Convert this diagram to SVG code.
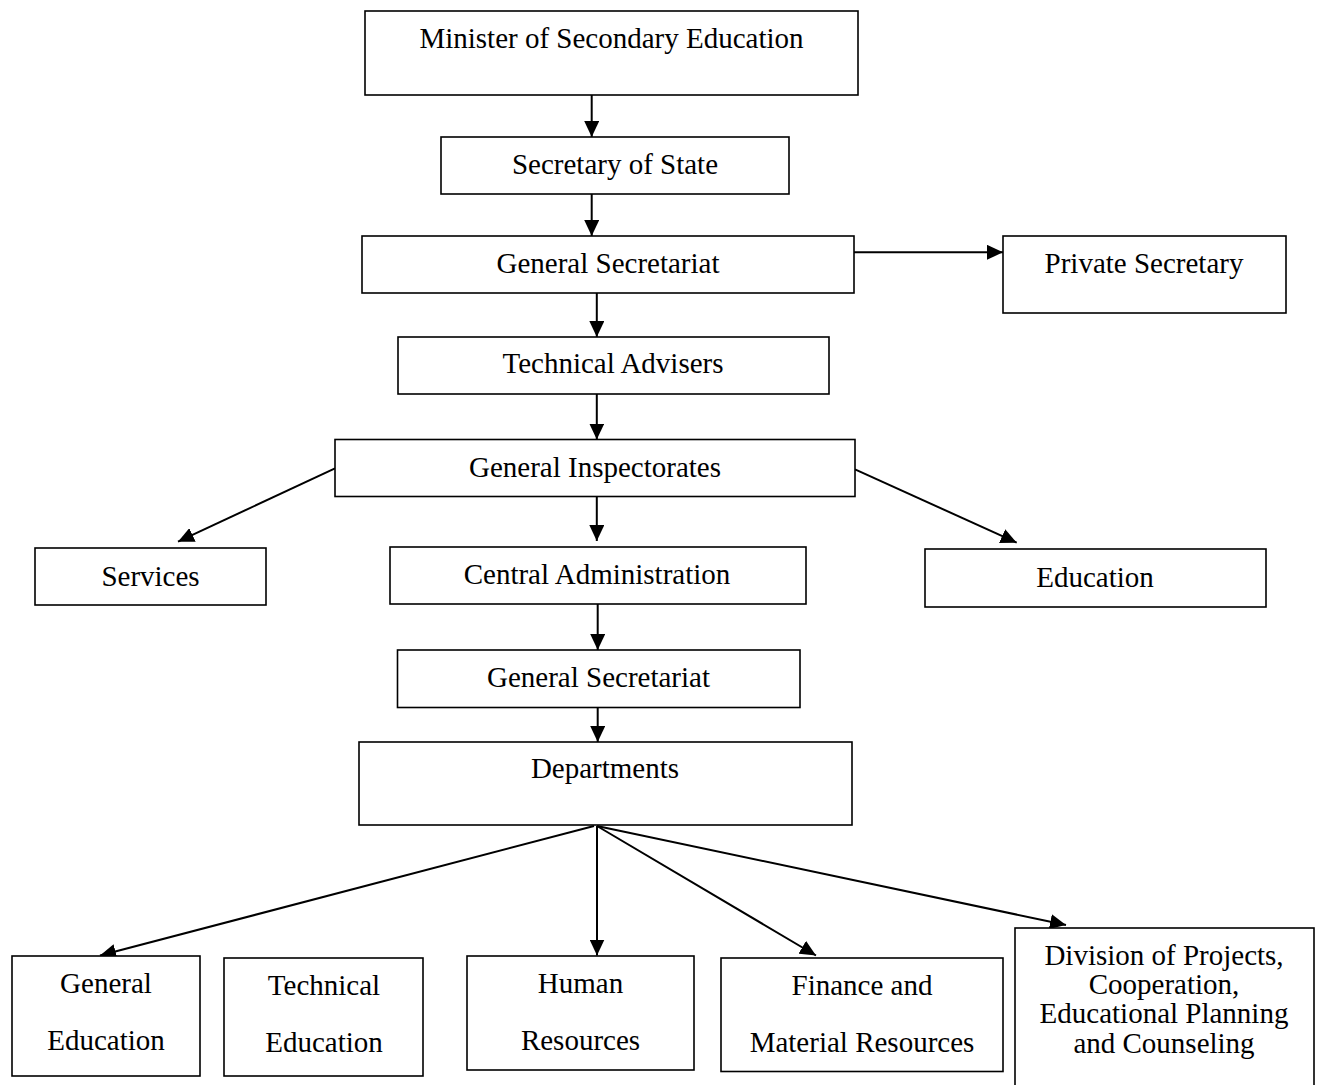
<svg xmlns="http://www.w3.org/2000/svg" width="1322" height="1085" viewBox="0 0 1322 1085">
<style>
.box{fill:#fff;stroke:#000;stroke-width:1.6}
.t{font-family:"Liberation Serif","Times New Roman",serif;font-size:29px;fill:#000;text-anchor:middle}
.c{stroke:#000;stroke-width:2;fill:none;marker-end:url(#ah)}
</style>
<defs>
<marker id="ah" markerUnits="userSpaceOnUse" markerWidth="16" markerHeight="15" refX="16" refY="7.5" orient="auto">
<path d="M0,0 L16,7.5 L0,15 z" fill="#000"/>
</marker>
</defs>
<rect width="1322" height="1085" fill="#fff"/>
<g id="connectors">
<line class="c" x1="591.7" y1="95" x2="591.7" y2="137"/>
<line class="c" x1="591.7" y1="194" x2="591.7" y2="236"/>
<line class="c" x1="854" y1="252.3" x2="1003" y2="252.3"/>
<line class="c" x1="596.8" y1="293" x2="596.8" y2="337"/>
<line class="c" x1="596.8" y1="394" x2="596.8" y2="439.5"/>
<line class="c" x1="335" y1="468.3" x2="178" y2="541.7"/>
<line class="c" x1="596.8" y1="496.7" x2="596.8" y2="541"/>
<line class="c" x1="855" y1="469.3" x2="1016.7" y2="542.7"/>
<line class="c" x1="597.7" y1="604" x2="597.7" y2="650"/>
<line class="c" x1="597.7" y1="707.7" x2="597.7" y2="742"/>
<line class="c" x1="594" y1="826" x2="100" y2="955.5"/>
<line class="c" x1="597" y1="826" x2="597" y2="955.5"/>
<line class="c" x1="597" y1="826" x2="816" y2="955.5"/>
<line class="c" x1="597" y1="826" x2="1066" y2="925"/>
</g>
<g id="minister"><rect class="box" x="365" y="11" width="493" height="84"/><text class="t" x="611.5" y="48">Minister of Secondary Education</text></g>
<g id="secretary-of-state"><rect class="box" x="441" y="137" width="348" height="57"/><text class="t" x="615" y="174">Secretary of State</text></g>
<g id="general-secretariat-1"><rect class="box" x="362" y="236" width="492" height="57"/><text class="t" x="608" y="273">General Secretariat</text></g>
<g id="private-secretary"><rect class="box" x="1003" y="236" width="283" height="77"/><text class="t" x="1144" y="273">Private Secretary</text></g>
<g id="technical-advisers"><rect class="box" x="398" y="337" width="431" height="57"/><text class="t" x="613" y="373">Technical Advisers</text></g>
<g id="general-inspectorates"><rect class="box" x="335" y="439.5" width="520" height="57"/><text class="t" x="595" y="477">General Inspectorates</text></g>
<g id="services"><rect class="box" x="35" y="548" width="231" height="57"/><text class="t" x="150.5" y="586">Services</text></g>
<g id="central-administration"><rect class="box" x="390" y="547" width="416" height="57"/><text class="t" x="597" y="584">Central Administration</text></g>
<g id="education"><rect class="box" x="925" y="549" width="341" height="58"/><text class="t" x="1095" y="587">Education</text></g>
<g id="general-secretariat-2"><rect class="box" x="397.5" y="650" width="402.5" height="57.5"/><text class="t" x="598.5" y="687">General Secretariat</text></g>
<g id="departments"><rect class="box" x="359" y="742" width="493" height="83"/><text class="t" x="605" y="778">Departments</text></g>
<g id="general-education"><rect class="box" x="12" y="956" width="188" height="120"/><text class="t" x="106" y="993">General</text><text class="t" x="106" y="1050">Education</text></g>
<g id="technical-education"><rect class="box" x="224" y="958" width="199" height="118"/><text class="t" x="324" y="995">Technical</text><text class="t" x="324" y="1052">Education</text></g>
<g id="human-resources"><rect class="box" x="467" y="956" width="227" height="114"/><text class="t" x="580.5" y="993">Human</text><text class="t" x="580.5" y="1050">Resources</text></g>
<g id="finance"><rect class="box" x="721" y="958" width="282" height="113.5"/><text class="t" x="862" y="995">Finance and</text><text class="t" x="862" y="1052">Material Resources</text></g>
<g id="division"><rect class="box" x="1015" y="928" width="299" height="170"/><text class="t" x="1164" y="965">Division of Projects,</text><text class="t" x="1164" y="994">Cooperation,</text><text class="t" x="1164" y="1023">Educational Planning</text><text class="t" x="1164" y="1053">and Counseling</text></g>
</svg>
